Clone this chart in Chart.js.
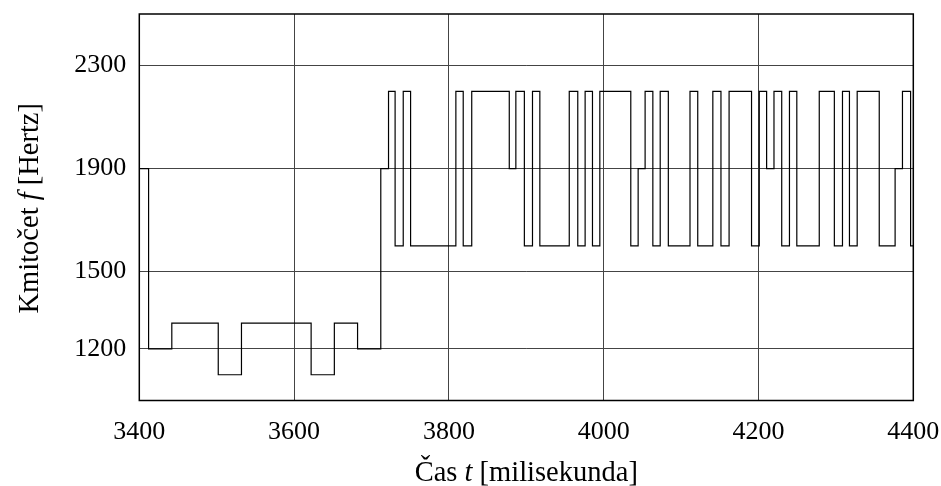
<!DOCTYPE html>
<html>
<head>
<meta charset="utf-8">
<script src="https://cdn.jsdelivr.net/npm/chart.js@4"></script>
<style>
  html, body { margin: 0; padding: 0; background: #ffffff; }
  #wrap { width: 941px; height: 486px; }
</style>
</head>
<body>
<div id="wrap"><canvas id="c" width="941" height="486"></canvas></div>
<script>
// Transition times (ms) and the frequency (Hz) that starts at each time
const times = [3400, 3412, 3442, 3502, 3532, 3622, 3652, 3682, 3712, 3722,
  3730.5, 3741, 3750.5, 3809, 3818.5, 3829.5, 3878, 3886.5, 3897.5, 3908,
  3917.5, 3955.5, 3966.5, 3976, 3985.5, 3995, 4035, 4044.5, 4053.5, 4063.5,
  4073, 4083.5, 4111.5, 4121.5, 4141, 4151.5, 4162, 4191, 4201, 4210.5,
  4220, 4230, 4240, 4249.5, 4278.5, 4298, 4308.5, 4317.5, 4327.5, 4356,
  4376.5, 4386, 4396.5, 4400];
const freqs = [1900, 1200, 1300, 1100, 1300, 1100, 1300, 1200, 1900, 2200,
  1600, 2200, 1600, 2200, 1600, 2200, 1900, 2200, 1600, 2200,
  1600, 2200, 1600, 2200, 1600, 2200, 1600, 1900, 2200, 1600,
  2200, 1600, 2200, 1600, 2200, 1600, 2200, 1600, 2200, 1900,
  2200, 1600, 2200, 1600, 2200, 1600, 2200, 1600, 2200, 1600,
  1900, 2200, 1600, 1600];
const xTicks = [3400, 3600, 3800, 4000, 4200, 4400];
const yTicks = [1200, 1500, 1900, 2300];
const xTitleParts = [["Čas ", false], ["t", true], [" [milisekunda]", false]];
const yTitleParts = [["Kmitočet ", false], ["f", true], [" [Hertz]", false]];

const FONT = "'Liberation Serif', 'Times New Roman', serif";
const FS = 26;
const TFS = 28.5;

const points = times.map((t, i) => ({ x: t, y: freqs[i] }));

function drawParts(ctx, parts, cx, cy, rot) {
  ctx.save();
  ctx.translate(cx, cy);
  if (rot) ctx.rotate(rot);
  ctx.fillStyle = '#000';
  ctx.textBaseline = 'alphabetic';
  ctx.textAlign = 'left';
  let total = 0;
  const widths = parts.map(([s, it]) => {
    ctx.font = (it ? 'italic ' : '') + TFS + 'px ' + FONT;
    const w = ctx.measureText(s).width;
    total += w;
    return w;
  });
  let x = -total / 2;
  parts.forEach(([s, it], i) => {
    ctx.font = (it ? 'italic ' : '') + TFS + 'px ' + FONT;
    ctx.fillText(s, x, 0);
    x += widths[i];
  });
  ctx.restore();
}

const framePlugin = {
  id: 'frameAndTitles',
  afterDraw(chart) {
    const { ctx, chartArea: a } = chart;
    ctx.save();
    ctx.strokeStyle = '#000';
    ctx.lineWidth = 1.5;
    ctx.strokeRect(a.left, a.top, a.right - a.left, a.bottom - a.top);
    ctx.restore();
    drawParts(ctx, xTitleParts, (a.left + a.right) / 2, 481, 0);
    drawParts(ctx, yTitleParts, 38, (a.top + a.bottom) / 2 + 1, -Math.PI / 2);
  }
};

function noPad(s) {
  s.paddingLeft = 0; s.paddingRight = 0; s.paddingTop = 0; s.paddingBottom = 0;
}

new Chart(document.getElementById('c'), {
  type: 'line',
  data: {
    datasets: [{
      data: points,
      stepped: 'before',
      borderColor: '#000',
      borderWidth: 1.2,
      pointRadius: 0,
      fill: false,
      tension: 0
    }]
  },
  options: {
    responsive: false,
    animation: false,
    events: [],
    layout: { padding: { left: 0, right: 27.7, top: 14, bottom: 0 } },
    plugins: { legend: { display: false }, tooltip: { enabled: false } },
    scales: {
      x: {
        type: 'linear',
        min: xTicks[0],
        max: xTicks[xTicks.length - 1],
        afterBuildTicks: s => { s.ticks = xTicks.map(v => ({ value: v })); },
        afterFit: s => { s.height = 85.5; noPad(s); },
        grid: { color: '#444', lineWidth: 1, drawTicks: false },
        border: { display: false },
        ticks: {
          padding: 16,
          color: '#000',
          maxRotation: 0,
          font: { family: FONT, size: FS },
          callback: v => String(v)
        }
      },
      y: {
        type: 'linear',
        min: 1000,
        max: 2500,
        afterBuildTicks: s => { s.ticks = yTicks.map(v => ({ value: v })); },
        afterFit: s => { s.width = 139.3; noPad(s); },
        grid: { color: '#444', lineWidth: 1, drawTicks: false },
        border: { display: false },
        ticks: {
          padding: 13,
          color: '#000',
          font: { family: FONT, size: FS },
          callback: v => String(v)
        }
      }
    }
  },
  plugins: [framePlugin]
});
</script>
</body>
</html>
